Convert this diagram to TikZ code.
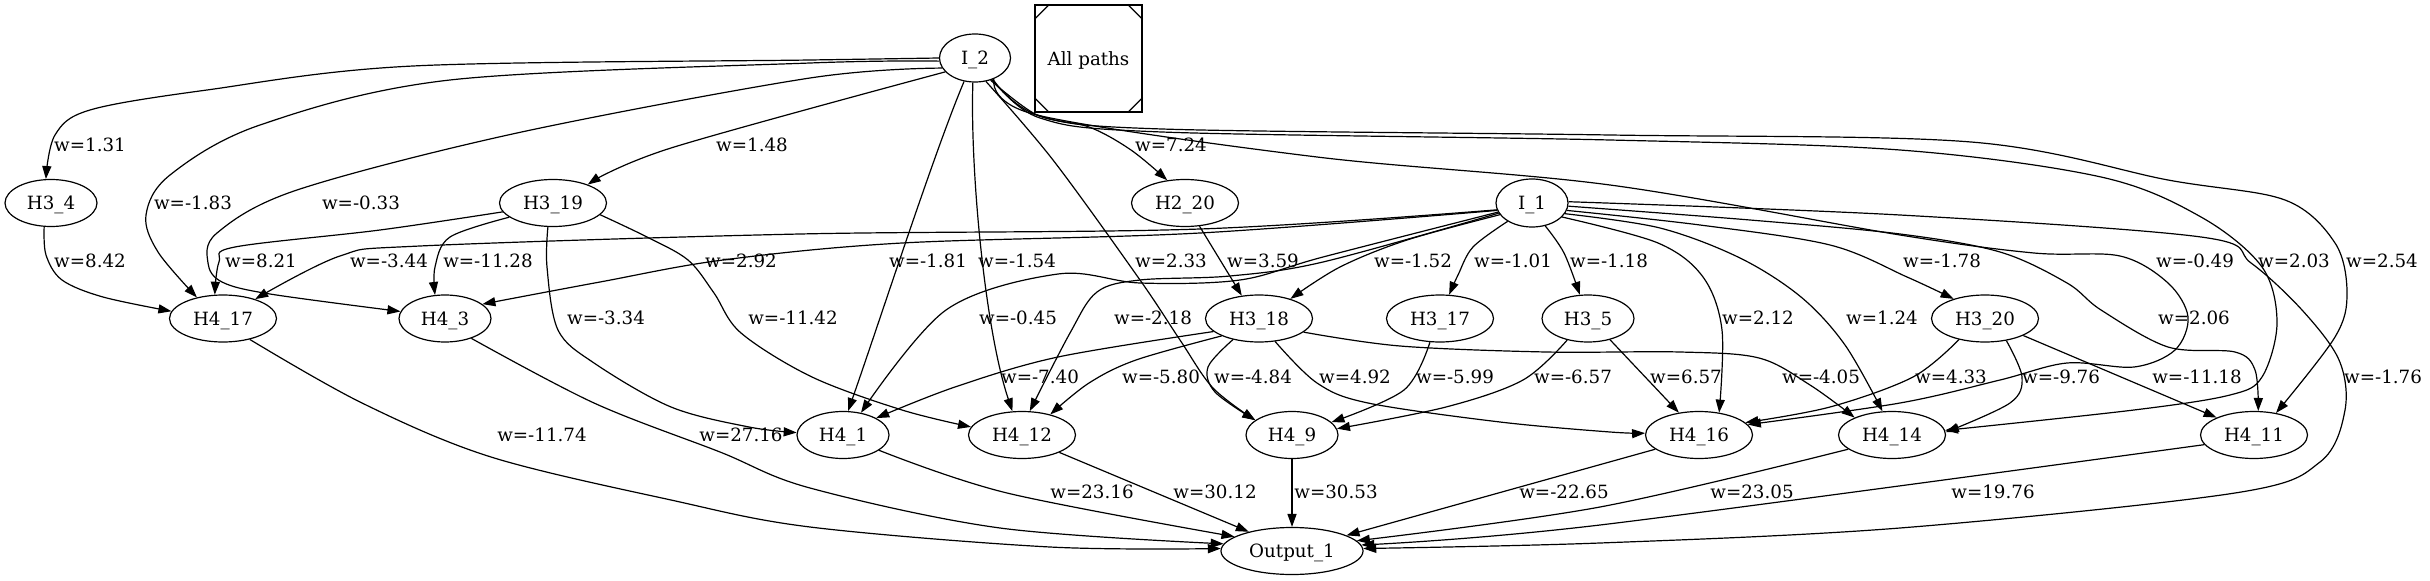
\documentclass[tikz,border=0pt]{standalone}
\usepackage{fontspec}
\setmainfont{DejaVu Serif}
\usetikzlibrary{arrows.meta,shapes.geometric,calc}
\begin{document}
\begin{tikzpicture}[x=0.75pt,y=-0.75pt,
  font=\fontsize{13.7pt}{16pt}\selectfont,
  nd/.style={draw,ellipse,line width=0.9pt,minimum width=#1,minimum height=35.25pt,inner sep=0pt,text depth=0pt},
  lbl/.style={inner sep=0pt,text depth=0pt},
  edge/.style={line width=0.9pt,-{Triangle[length=9.75pt,width=6.8pt]}},
  sm/.style={smooth,tension=0.55}]
\useasboundingbox (0,0) rectangle (2430,581);
\fill[white] (0,0) rectangle (2430,581);
% nodes
\node[nd=53.25pt,minimum height=36pt] (I2) at (975,58) {I\_2};
\node[nd=54pt,minimum height=36pt] (I1) at (1532,203) {I\_1};
\node[draw,rectangle,line width=0.9pt,minimum width=80.25pt,minimum height=80.25pt,inner sep=0pt,text depth=0pt] (ap) at (1088.5,58.5) {All paths};
\draw[line width=0.9pt] ($(ap.north west)+(0,15)$) -- ($(ap.north west)+(15,0)$);
\draw[line width=0.9pt] ($(ap.north east)+(-15,0)$) -- ($(ap.north east)+(0,15)$);
\draw[line width=0.9pt] ($(ap.south west)+(0,-15)$) -- ($(ap.south west)+(15,0)$);
\draw[line width=0.9pt] ($(ap.south east)+(-15,0)$) -- ($(ap.south east)+(0,-15)$);
\node[nd=69pt] (H34) at (51,203) {H3\_4};
\node[nd=80.25pt] (H319) at (553,203) {H3\_19};
\node[nd=80.25pt] (H220) at (1185,203) {H2\_20};
\node[nd=80.25pt] (H417) at (223,318.5) {H4\_17};
\node[nd=69pt] (H43) at (445,318.5) {H4\_3};
\node[nd=80.25pt] (H318) at (1259,318.5) {H3\_18};
\node[nd=80.25pt] (H317) at (1440,318.5) {H3\_17};
\node[nd=69pt] (H35) at (1588,318.5) {H3\_5};
\node[nd=80.25pt] (H320) at (1985,318.5) {H3\_20};
\node[nd=69pt] (H41) at (843,435) {H4\_1};
\node[nd=80.25pt] (H412) at (1022,435) {H4\_12};
\node[nd=69pt] (H49) at (1292,435) {H4\_9};
\node[nd=80.25pt] (H416) at (1699,435) {H4\_16};
\node[nd=80.25pt] (H414) at (1892,435) {H4\_14};
\node[nd=80.25pt] (H411) at (2254,435) {H4\_11};
\node[nd=106.5pt] (out) at (1292,551) {Output\_1};
% I_2 edges
\draw[edge] plot[sm] coordinates {(I2.180) (810,60) (413,66) (207,90) (90,110) (55,135) (H34.102)};
\draw[edge] plot[sm] coordinates {(I2.185) (810,63) (450,80) (260,125) (170,175) (146,215) (158,252) (H417.141)};
\draw[edge] plot[sm] coordinates {(I2.197) (810,78) (517,133) (297,190) (217,233) (208,263) (222,282) (270,294) (H43.171)};
\draw[edge] plot[sm] coordinates {(I2.205) (671,148) (H319.28)};
\draw[edge] (I2.245) .. controls (935,150) and (880,320) .. (H41.78);
\draw[edge] (I2.265) .. controls (970,170) and (985,330) .. (H412.112);
\draw[edge] plot[sm] coordinates {(I2.295) (1053,160) (1140,280) (1180,340) (1213,388) (H49.158)};
\draw[edge] plot[sm] coordinates {(I2.305) (1037,115) (1089,127) (1131,150) (H220.128)};
\draw[edge] plot[sm] coordinates {(I2.308) (1040,116) (1162,129) (1610,135) (1971,142) (2168,180) (2285,200) (2335,243) (2347,293) (2335,337) (H411.45)};
\draw[edge] plot[sm] coordinates {(I2.310) (1040,118) (1162,132) (1610,140) (1900,150) (2101,177) (2201,217) (2262,267) (2277,323) (2262,377) (2230,395) (2134,410) (H414.5)};
\draw[edge] plot[sm] coordinates {(I2.312) (1037,115) (1317,157) (1610,185) (1900,235) (2034,253) (2120,256) (2168,283) (2188,317) (2175,350) (2134,367) (2067,363) (2000,380) (1900,403) (H416.12)};
% I_1 edges
\draw[edge] plot[sm] coordinates {(I1.191) (1200,229) (800,234) (420,246) (340,256) (H417.31)};
\draw[edge] plot[sm] coordinates {(I1.192) (1200,233) (902,243) (723,260) (600,282) (H43.21)};
\draw[edge] plot[sm] coordinates {(I1.195) (1323,257) (1240,280) (1140,283) (1058,274) (946,310) (H41.51)};
\draw[edge] plot[sm] coordinates {(I1.197) (1323,262) (1230,276) (1140,280) (1097,292) (1070,333) (H412.72)};
\draw[edge] plot[sm] coordinates {(I1.200) (1407,240) (1340,267) (H318.32)};
\draw[edge] (H220.302) -- (H318.127);
\draw[edge] plot[sm] coordinates {(I1.217) (1473,247) (1458,275) (H317.69)};
\draw[edge] plot[sm] coordinates {(I1.300) (1564,253) (H35.109)};
\draw[edge] plot[sm] coordinates {(I1.335) (1658,243) (1703,277) (1722,330) (H416.48)};
\draw[edge] plot[sm] coordinates {(I1.342) (1660,228) (1740,258) (1801,297) (1845,345) (H414.112)};
\draw[edge] plot[sm] coordinates {(I1.348) (1700,225) (1830,245) (1907,277) (H320.148)};
\draw[edge] plot[sm] coordinates {(I1.355) (1750,220) (1900,234) (2000,252) (2067,283) (2101,310) (2168,347) (2235,352) (2255,370) (H411.80)};
\draw[edge] plot[sm] coordinates {(I1.2) (1900,215) (2201,237) (2251,263) (2302,310) (2339,360) (2345,410) (2320,462) (2235,493) (1900,528) (1600,543) (out.2)};
% H3_4, H3_19 edges
\draw[edge] plot[sm] coordinates {(H34.254) (46,255) (62,280) (103,297) (H417.172)};
\draw[edge] plot[sm] coordinates {(H319.190) (380,230) (235,247) (219,262) (H417.109)};
\draw[edge] plot[sm] coordinates {(H319.198) (450,237) (435,267) (H43.113)};
\draw[edge] plot[sm] coordinates {(H319.258) (547,267) (558,330) (594,363) (671,407) (749,427) (H41.177)};
\draw[edge] plot[sm] coordinates {(H319.346) (647,237) (688,260) (714,293) (741,333) (812,377) (902,410) (H412.171)};
% H3_18, H3_17, H3_5, H3_20 edges
\draw[edge] plot[sm] coordinates {(H318.196) (1058,357) (955,387) (H41.27)};
\draw[edge] plot[sm] coordinates {(H318.205) (1136,360) (1089,383) (H412.36)};
\draw[edge] plot[sm] coordinates {(H318.219) (1208,367) (1215,392) (H49.158)};
\draw[edge] plot[sm] coordinates {(H318.305) (1317,383) (1368,403) (1500,422) (1610,432) (H416.178)};
\draw[edge] plot[sm] coordinates {(H318.343) (1400,346) (1546,352) (1680,352) (1759,358) (1810,385) (H414.155)};
\draw[edge] plot[sm] coordinates {(H317.247) (1404,390) (H49.18)};
\draw[edge] plot[sm] coordinates {(H35.226) (1523,380) (1446,407) (H49.8)};
\draw[edge] (H35.316) -- (H416.132);
\draw[edge] plot[sm] coordinates {(H320.219) (1913,377) (1830,407) (H416.15)};
\draw[edge] plot[sm] coordinates {(H320.314) (2022,377) (2010,403) (H414.3)};
\draw[edge] (H320.336) -- (H411.155);
% to Output_1
\draw[edge] plot[sm] coordinates {(H417.322) (362,403) (491,457) (671,500) (810,527) (1050,547) (out.178)};
\draw[edge] plot[sm] coordinates {(H43.323) (594,403) (720,452) (810,488) (1000,528) (out.174)};
\draw[edge] plot[sm] coordinates {(H41.337) (1007,493) (out.166)};
\draw[edge] (H412.335) -- (out.156);
\draw[edge] (H49) -- (out);
\draw[edge] (H416.198) -- (out.16);
\draw[edge] plot[sm] coordinates {(H414.198) (1600,507) (out.9)};
\draw[edge] plot[sm] coordinates {(H411.191) (1600,525) (out.5)};
% labels
\node[lbl] (l1) at (90,145) {w=1.31};
\node[lbl] (l2) at (752,145) {w=1.48};
\node[lbl] (l3) at (1171,145) {w=7.24};
\node[lbl] (l4) at (193,203) {w=-1.83};
\node[lbl] (l5) at (361,203) {w=-0.33};
\node[lbl] (l6) at (90,261) {w=8.42};
\node[lbl] (l7) at (261,261) {w=8.21};
\node[lbl] (l8) at (389,261) {w=-3.44};
\node[lbl] (l9) at (488,261) {w=-11.28};
\node[lbl] (l10) at (741,261) {w=2.92};
\node[lbl] (l11) at (928,261) {w=-1.81};
\node[lbl] (l12) at (1017,261) {w=-1.54};
\node[lbl] (l13) at (1171,261) {w=2.33};
\node[lbl] (l14) at (1263,261) {w=3.59};
\node[lbl] (l15) at (1413,261) {w=-1.52};
\node[lbl] (l16) at (1513,261) {w=-1.01};
\node[lbl] (l17) at (1609,261) {w=-1.18};
\node[lbl] (l18) at (1942,261) {w=-1.78};
\node[lbl] (l19) at (2195,261) {w=-0.49};
\node[lbl] (l20) at (2294,261) {w=2.03};
\node[lbl] (l21) at (2382,261) {w=2.54};
\node[lbl] (l22) at (606,318) {w=-3.34};
\node[lbl] (l23) at (793,318) {w=-11.42};
\node[lbl] (l24) at (1018,318) {w=-0.45};
\node[lbl] (l25) at (1153,318) {w=-2.18};
\node[lbl] (l26) at (1758,318) {w=2.12};
\node[lbl] (l27) at (1882,318) {w=1.24};
\node[lbl] (l28) at (2194,318) {w=2.06};
\node[lbl] (l29) at (1040,377) {w=-7.40};
\node[lbl] (l30) at (1161,377) {w=-5.80};
\node[lbl] (l31) at (1253,377) {w=-4.84};
\node[lbl] (l32) at (1355,377) {w=4.92};
\node[lbl] (l33) at (1455,377) {w=-5.99};
\node[lbl] (l34) at (1573,377) {w=-6.57};
\node[lbl] (l35) at (1686,377) {w=6.57};
\node[lbl] (l36) at (1821,377) {w=-4.05};
\node[lbl] (l37) at (1951,377) {w=4.33};
\node[lbl] (l38) at (2061,377) {w=-9.76};
\node[lbl] (l39) at (2197,377) {w=-11.18};
\node[lbl] (l40) at (2383,377) {w=-1.76};
\node[lbl] (l41) at (542,435) {w=-11.74};
\node[lbl] (l42) at (741,435) {w=27.16};
\node[lbl] (l43) at (1092,492) {w=23.16};
\node[lbl] (l44) at (1215,492) {w=30.12};
\node[lbl] (l45) at (1336,492) {w=30.53};
\node[lbl] (l46) at (1564,492) {w=-22.65};
\node[lbl] (l47) at (1752,492) {w=23.05};
\node[lbl] (l48) at (1993,492) {w=19.76};
\end{tikzpicture}
\end{document}
